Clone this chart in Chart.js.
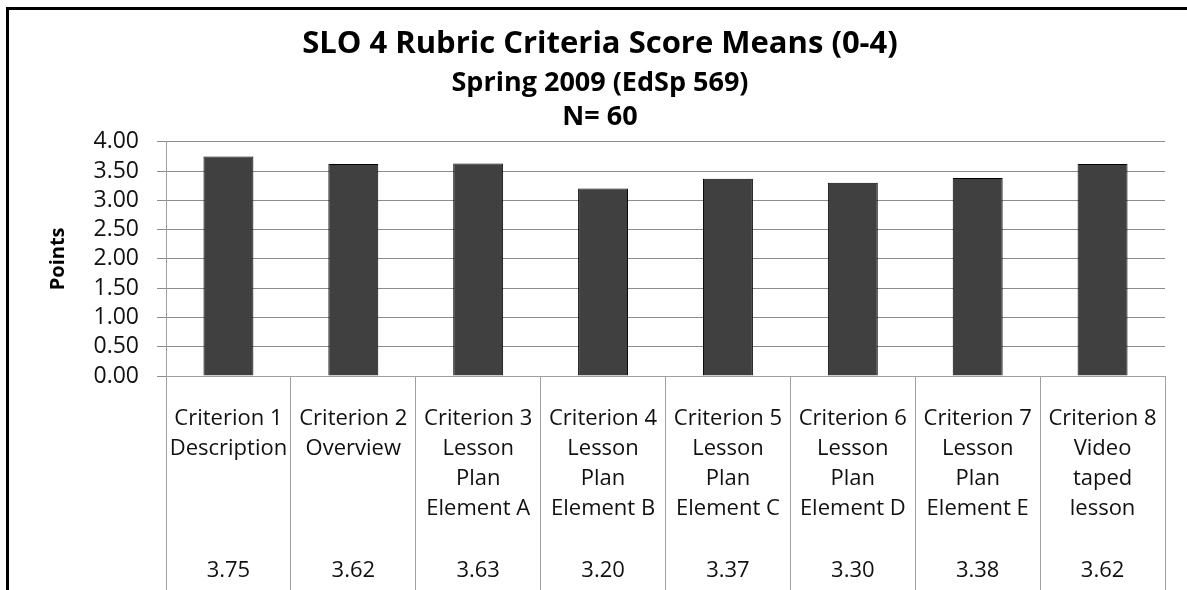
<!DOCTYPE html>
<html>
<head>
<meta charset="utf-8">
<script src="https://cdn.jsdelivr.net/npm/chart.js@4/dist/chart.umd.min.js"></script>
<style>
  body { margin: 0; background: #fff; }
  #wrap { position: relative; width: 1187px; height: 590px; }
</style>
</head>
<body>
<div id="wrap"><canvas id="chart-slo" width="1187" height="590"></canvas></div>
<script>
// data
const categories = [
  ['Criterion 1', 'Description'],
  ['Criterion 2', 'Overview'],
  ['Criterion 3', 'Lesson', 'Plan', 'Element A'],
  ['Criterion 4', 'Lesson', 'Plan', 'Element B'],
  ['Criterion 5', 'Lesson', 'Plan', 'Element C'],
  ['Criterion 6', 'Lesson', 'Plan', 'Element D'],
  ['Criterion 7', 'Lesson', 'Plan', 'Element E'],
  ['Criterion 8', 'Video', 'taped', 'lesson']
];
const scoreMeans = [3.75, 3.62, 3.63, 3.20, 3.37, 3.30, 3.38, 3.62];
const yTicks = [0, 0.5, 1, 1.5, 2, 2.5, 3, 3.5, 4];

const FONT = '"Open Sans"';

// outer frame + data table under the axis
const tablePlugin = {
  id: 'dataTable',
  beforeDraw(chart) {
    const ctx = chart.ctx;
    ctx.save();
    ctx.strokeStyle = '#000';
    ctx.lineWidth = 3;
    ctx.strokeRect(7.5, 8.5, 1300, 700);
    ctx.restore();
  },
  afterDraw(chart) {
    const ctx = chart.ctx;
    const x = chart.scales.x;
    ctx.save();
    ctx.fillStyle = '#111';
    ctx.textAlign = 'center';
    ctx.textBaseline = 'middle';
    ctx.font = '22px ' + FONT;
    categories.forEach((lines, i) => {
      const cx = x.getPixelForValue(i);
      lines.forEach((t, j) => {
        ctx.fillText(t, cx, 419 + j * 29.8);
      });
      ctx.fillText(scoreMeans[i].toFixed(2), cx, 571);
    });
    ctx.restore();
  }
};

const sloChart = new Chart(document.getElementById('chart-slo').getContext('2d'), {
  type: 'bar',
  data: {
    labels: categories,
    datasets: [{
      data: scoreMeans,
      backgroundColor: '#404040',
      borderColor: '#000',
      borderWidth: 1,
      barPercentage: 0.4,
      categoryPercentage: 1.0
    }]
  },
  options: {
    responsive: false,
    animation: false,
    devicePixelRatio: 1,
    layout: { padding: { left: 35, right: 22, top: 0, bottom: 0 } },
    plugins: {
      legend: { display: false },
      tooltip: { enabled: false },
      title: {
        display: true,
        text: 'SLO 4 Rubric Criteria Score Means (0-4)',
        color: '#000',
        font: { family: FONT, size: 31, weight: 'bold' },
        padding: { top: 26, bottom: 3.6 }
      },
      subtitle: {
        display: true,
        text: ['Spring 2009 (EdSp 569)', 'N= 60'],
        color: '#000',
        font: { family: FONT, size: 27, weight: 'bold', lineHeight: 1.24 },
        padding: { top: 0, bottom: 8 }
      }
    },
    scales: {
      x: {
        offset: true,
        border: { display: true, color: '#a0a0a0', width: 1 },
        grid: {
          offset: true,
          drawOnChartArea: false,
          drawTicks: true,
          tickLength: 230,
          color: '#a0a0a0'
        },
        ticks: { display: false, autoSkip: false },
        afterFit(scale) { scale.height = 214; }
      },
      y: {
        min: 0,
        max: 4,
        afterBuildTicks(scale) { scale.ticks = yTicks.map(v => ({ value: v })); },
        border: { display: true, color: '#a0a0a0', width: 1 },
        grid: { color: '#8c8c8c', tickLength: 9, drawTicks: true },
        ticks: {
          color: '#111',
          padding: 18,
          autoSkip: false,
          font: { family: FONT, size: 23 },
          callback: v => Number(v).toFixed(2)
        },
        title: {
          display: true,
          text: 'Points',
          color: '#000',
          font: { family: FONT, size: 20, weight: 'bold' },
          padding: { top: 11, bottom: 0 }
        },
        afterFit(scale) { scale.width = 131; }
      }
    }
  },
  plugins: [tablePlugin]
});
</script>
</body>
</html>
